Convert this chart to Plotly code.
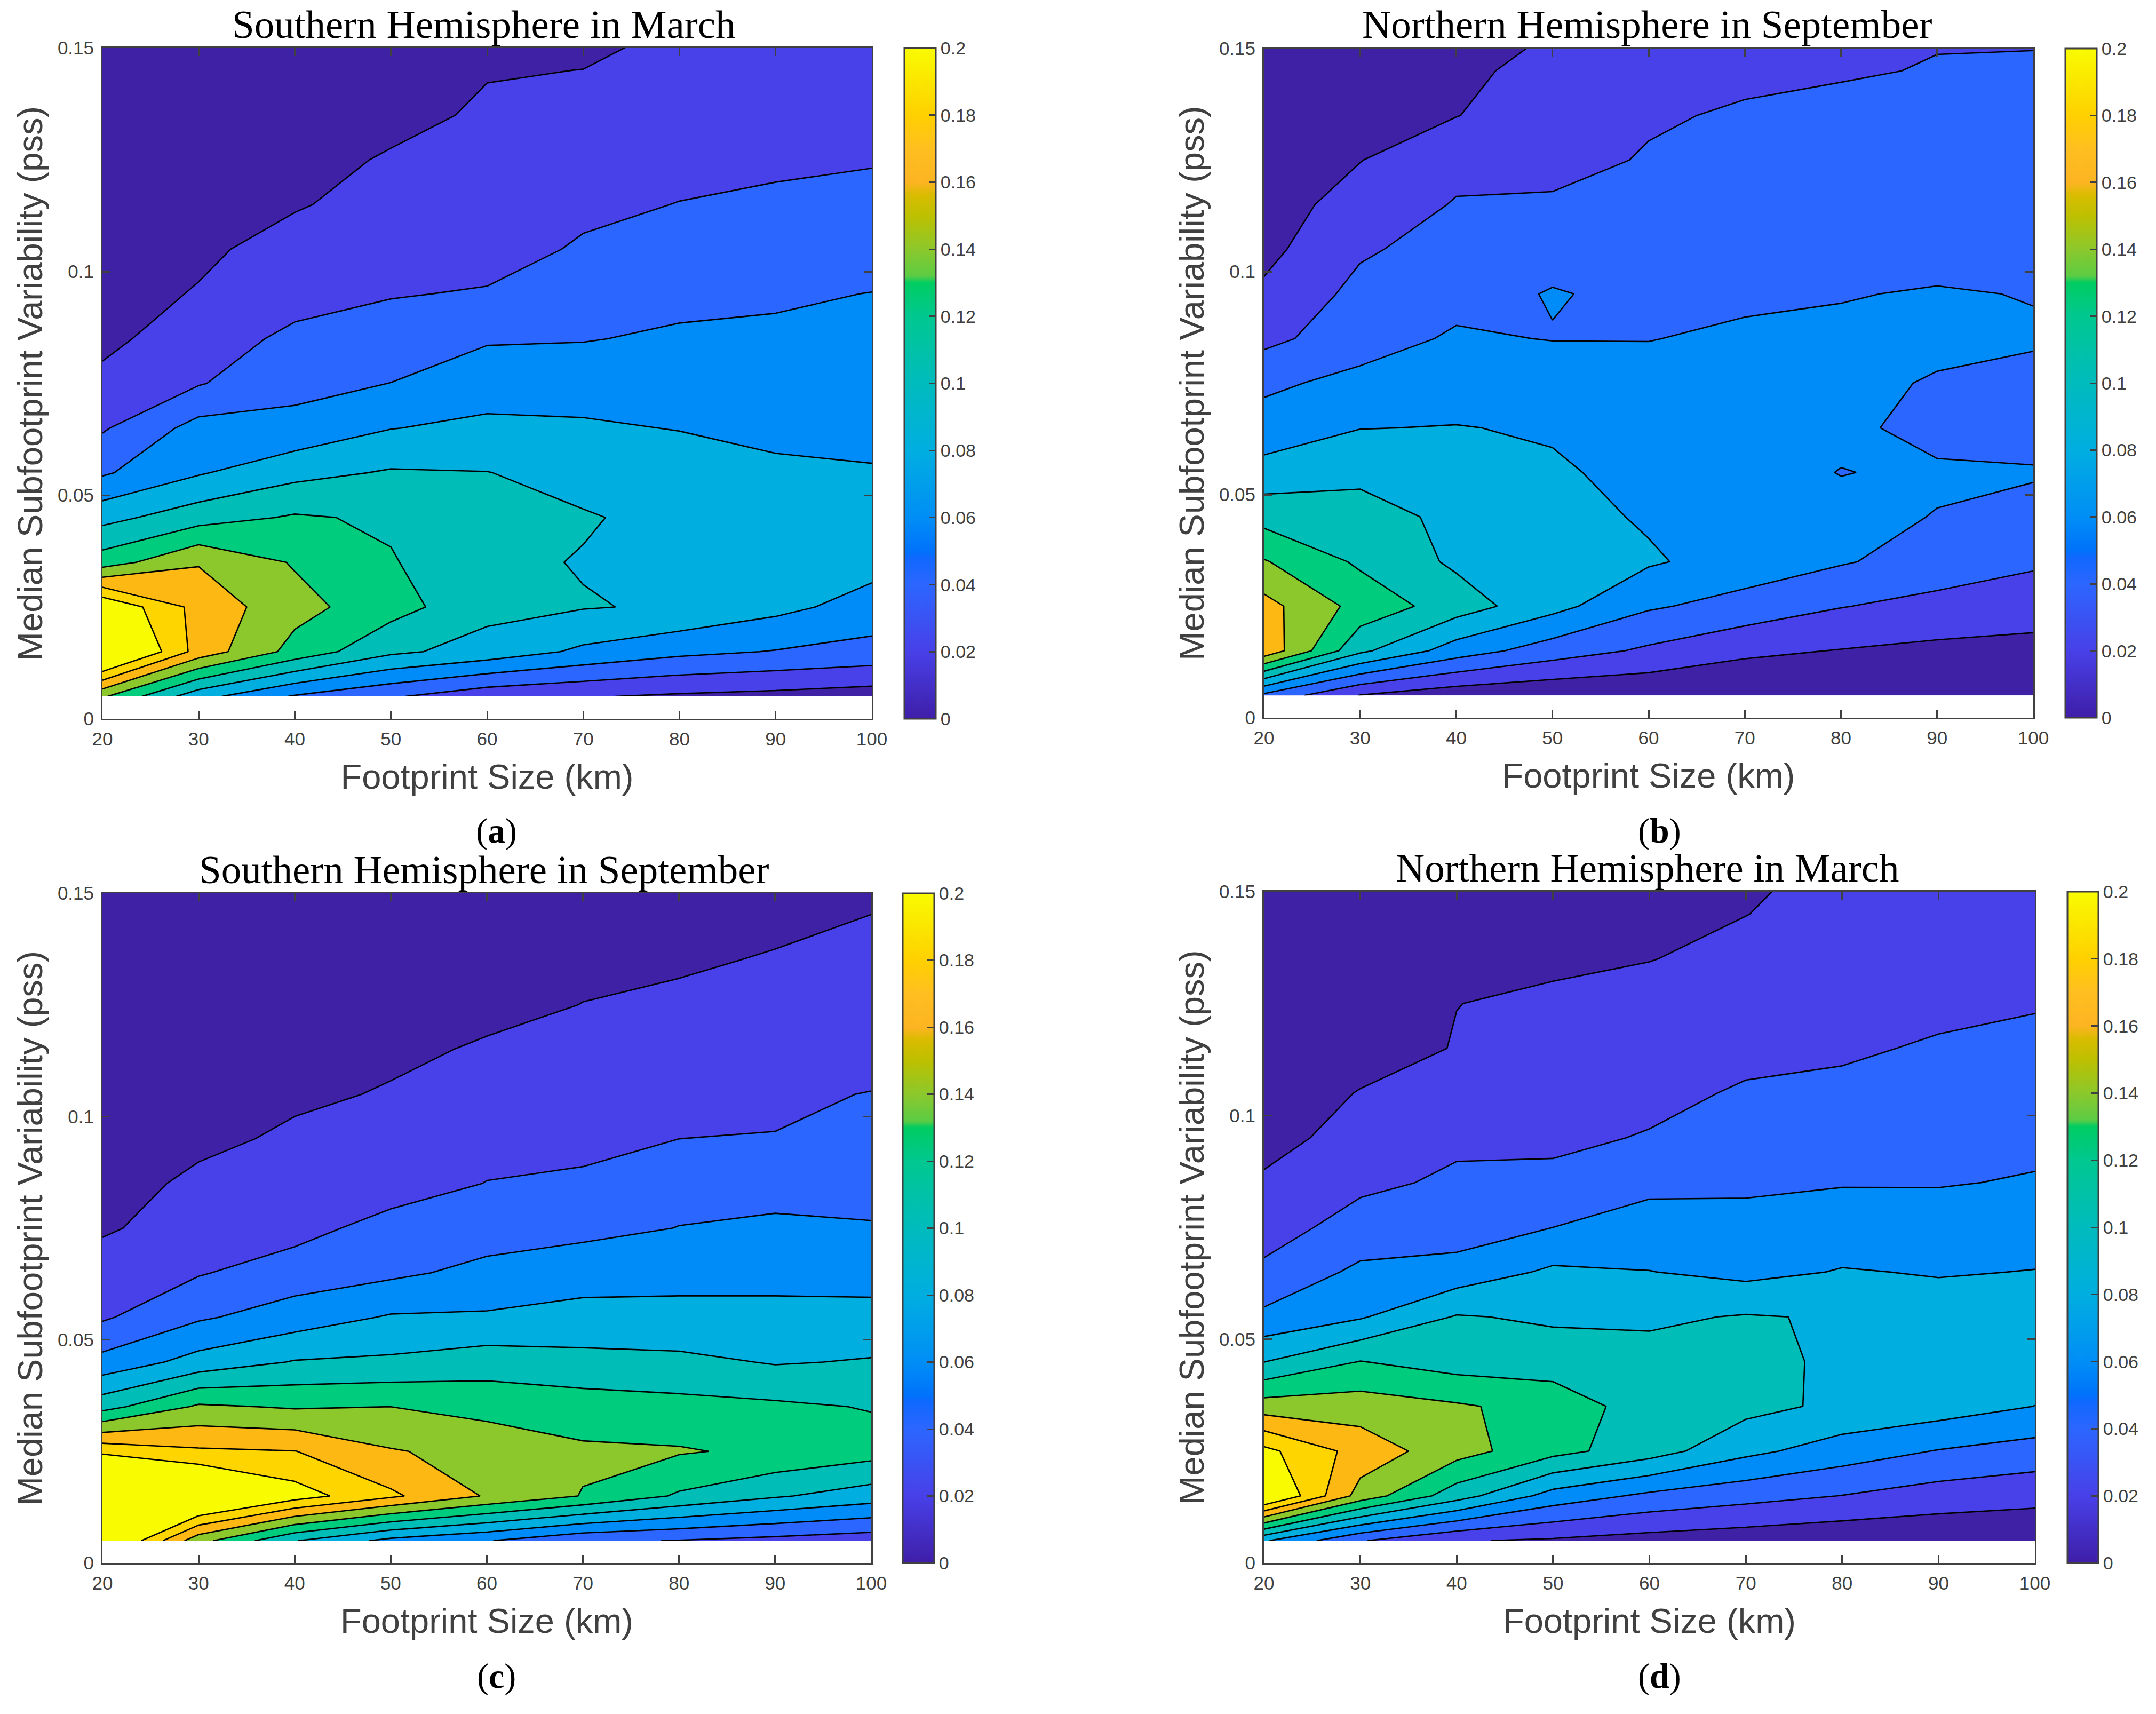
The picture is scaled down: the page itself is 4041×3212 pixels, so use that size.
import plotly.graph_objects as go

WIDTH, HEIGHT = 4041, 3212

footprint_km = [20, 30, 40, 50, 60, 70, 80, 90, 100]
variability_pss = [0.005, 0.015, 0.025, 0.035, 0.045, 0.055, 0.065, 0.075,
                   0.085, 0.095, 0.105, 0.115, 0.125, 0.135, 0.145, 0.155]

# One list per footprint size, one value per variability row
south_march = [
    [.143, .245, .2195, .13, .0935, .0575, .0378, .0245, .0155, .0125, .0105, .0095, .009, .0085, .008, .0075],
    [.087, .172, .173, .1586, .1114, .0782, .0672, .0386, .03, .0213, .0165, .014, .012, .011, .0105, .01],
    [.058, .133, .147, .1382, .1222, .094, .0654, .0548, .0445, .0325, .027, .0185, .0155, .014, .013, .012],
    [.0424, .104, .1279, .1215, .1171, .102, .0795, .0602, .0505, .0387, .0325, .0265, .0213, .0163, .014, .013],
    [.0265, .0922, .106, .1048, .108, .1005, .0842, .0712, .058, .0418, .0315, .0285, .0247, .0218, .0193, .0175],
    [.0215, .0762, .1012, .0988, .1018, .0923, .0818, .0742, .0588, .0505, .0425, .0355, .03, .0245, .0201, .0165],
    [.017, .065, .0976, .096, .094, .087, .0795, .0725, .0635, .0535, .048, .0405, .034, .0295, .0222, .0205],
    [.014, .059, .0856, .092, .0915, .0835, .0755, .0685, .0625, .0581, .052, .0425, .0375, .0325, .0285, .0265],
    [.01, .0535, .072, .0868, .0885, .0815, .0745, .0685, .064, .0603, .0535, .0465, .0385, .033, .0295, .027],
]
north_september = [
    [.055, .175, .167, .1415, .1128, .0877, .068, .0562, .0346, .0235, .0145, .011, .0095, .0085, .008, .0075],
    [.0192, .1043, .133, .1167, .1075, .0955, .0795, .0655, .0514, .0455, .0375, .028, .0195, .0165, .0145, .013],
    [.0073, .0702, .11, .0965, .0955, .089, .0807, .0705, .0625, .054, .0475, .0413, .0343, .0195, .0155, .014],
    [.0033, .05, .0865, .0875, .087, .0825, .078, .0725, .0593, .061, .0543, .0425, .034, .0305, .0265, .0195],
    [.0027, .0367, .0625, .0824, .0778, .0745, .0695, .0655, .0596, .0565, .0515, .0465, .0415, .038, .0345, .03],
    [.002, .0239, .0527, .0714, .0735, .0685, .0685, .0665, .0625, .0573, .0535, .0495, .0455, .042, .0364, .034],
    [.0025, .0192, .0408, .0618, .0661, .0594, .0649, .0645, .063, .0592, .0555, .0525, .0485, .0435, .0388, .0365],
    [.004, .0155, .0338, .0515, .0592, .0632, .0529, .0585, .0641, .0612, .0545, .052, .049, .0445, .0407, .0388],
    [.006, .0135, .0295, .0428, .0545, .0616, .052, .056, .0616, .0594, .0555, .0525, .0495, .0455, .0415, .0382],
]
south_september = [
    [.236, .275, .195, .1125, .0665, .0375, .0315, .017, .0125, .011, .0095, .009, .0085, .008, .0075, .007],
    [.147, .242, .183, .143, .0875, .0575, .0385, .031, .0237, .016, .0135, .012, .011, .0105, .01, .0095],
    [.101, .2095, .1805, .138, .1013, .0695, .0497, .033, .0275, .0228, .0172, .0145, .013, .012, .0115, .011],
    [.074, .1836, .1615, .14, .1036, .082, .056, .0475, .0301, .0255, .0212, .0172, .0155, .014, .013, .0125],
    [.0612, .1582, .1536, .1333, .1104, .0825, .0655, .0506, .0405, .033, .0265, .0215, .0165, .0145, .0135, .0125],
    [.0435, .139, .1437, .128, .1085, .082, .0775, .0518, .045, .0318, .0275, .0238, .0202, .0172, .015, .0135],
    [.0392, .1174, .1418, .126, .1055, .083, .0768, .0606, .05, .04, .0325, .027, .0225, .0183, .0165, .015],
    [.0338, .1023, .136, .1235, .0985, .083, .0768, .0625, .055, .0405, .0375, .031, .0265, .021, .017, .0155],
    [.0285, .09, .128, .1189, .1015, .0865, .0721, .0615, .0527, .0465, .0405, .0335, .0285, .024, .0201, .016],
]
north_march = [
    [.0824, .2294, .2056, .1495, .0995, .0647, .0433, .033, .0215, .0163, .0135, .0115, .0105, .0095, .009, .0085],
    [.0415, .152, .172, .15, .1205, .078, .0645, .0465, .0367, .024, .0205, .0155, .0135, .012, .0115, .011],
    [.0215, .109, .148, .1425, .1108, .1015, .0679, .05, .0425, .0372, .0285, .0205, .0199, .0175, .016, .015],
    [.0173, .072, .1265, .1325, .1098, .0971, .0835, .06, .0455, .0353, .0305, .0255, .0215, .0185, .0165, .0155],
    [.0122, .0557, .109, .1098, .1075, .0965, .0805, .0665, .0562, .0415, .034, .029, .0255, .0196, .0175, .016],
    [.0085, .047, .085, .1061, .1085, .1015, .0743, .0675, .056, .05, .0425, .0339, .0285, .024, .0198, .018],
    [.0046, .0396, .0705, .0958, .0946, .0981, .0812, .0692, .0589, .0535, .047, .0355, .031, .027, .0245, .022],
    [.0036, .031, .059, .0899, .0905, .0885, .0788, .0695, .0588, .054, .0495, .0435, .0325, .0285, .0265, .0245],
    [.003, .0265, .0515, .0798, .0885, .086, .0805, .0725, .0615, .0555, .05, .0445, .0387, .034, .0305, .028],
]

panel_titles = ["Southern Hemisphere in March", "Northern Hemisphere in September",
                "Southern Hemisphere in September", "Northern Hemisphere in March"]
panel_letters = ["a", "b", "c", "d"]
panel_data = [south_march, north_september, south_september, north_march]

x_ticks = [20, 30, 40, 50, 60, 70, 80, 90, 100]
y_ticks = [0, 0.05, 0.1, 0.15]
y_tick_text = ["0", "0.05", "0.1", "0.15"]
cbar_ticks = [0, .02, .04, .06, .08, .1, .12, .14, .16, .18, .2]
cbar_tick_text = ["0", "0.02", "0.04", "0.06", "0.08", "0.1", "0.12", "0.14", "0.16", "0.18", "0.2"]

# Band colours, lowest to highest
band_colors = ["#3f21a6", "#4840e8", "#2a66ff", "#008cf8", "#00aee0", "#00bdb7",
               "#00cc7e", "#8cc82c", "#fdb814", "#ffd500", "#f9fb00"]
bar_scale = [[0, "#3f1ea8"], [.1, "#4840e8"], [.2, "#2c66ff"], [.24, "#1068ff"], [.25, "#0072fb"],
             [.3, "#008ef6"], [.4, "#00aee0"], [.5, "#00bbbd"], [.6, "#00c890"], [.65, "#00cc62"],
             [.66, "#5ccc44"], [.7, "#8cc82c"], [.75, "#bdc000"], [.78, "#d8bc00"], [.8, "#fdb422"],
             [.85, "#ffbf20"], [.9, "#ffd000"], [.95, "#fbe600"], [1, "#f9fb00"]]

# Pixel boxes: axes left/right/top/bottom and colour bar left/right
axes_px = [(192, 1634, 90, 1347), (2369, 3811, 91, 1345),
           (192, 1633, 1674, 2929), (2369, 3814, 1671, 2929)]
bar_px = [(1695, 1754), (3871, 3930), (1692, 1751), (3875, 3933)]
title_y_px = [46, 46, 1629, 1626]
title_x_px = [907, 3087, 907, 3087]
label_px = [(930, 1557), (3110, 1557), (930, 3141), (3110, 3141)]

INK = "#404040"
SANS = "Liberation Sans"
SERIF = "Liberation Serif"

band_scale = [[i / (len(band_colors) - 1), c] for i, c in enumerate(band_colors)]

fig = go.Figure()
annotations = []
for i in range(4):
    left, right, top, bottom = axes_px[i]
    n = "" if i == 0 else str(i + 1)
    z_rows = [list(r) for r in zip(*panel_data[i])]
    fig.add_trace(go.Contour(
        x=footprint_km, y=variability_pss, z=z_rows, xaxis="x" + n, yaxis="y" + n,
        autocontour=False,
        contours=dict(start=0.02, end=0.2, size=0.02, coloring="fill", showlines=True),
        line=dict(color="black", width=2.6, smoothing=0),
        colorscale=band_scale, showscale=False, hoverinfo="skip",
    ))
    bl, br = bar_px[i]
    fig.add_trace(go.Scatter(
        x=[footprint_km[0], footprint_km[0]], y=[variability_pss[0], variability_pss[0]],
        xaxis="x" + n, yaxis="y" + n, mode="markers", showlegend=False, hoverinfo="skip",
        marker=dict(size=1, opacity=0, color=[cbar_ticks[0], cbar_ticks[-1]], cmin=0, cmax=0.2,
                    colorscale=bar_scale, showscale=True,
                    colorbar=dict(
                        x=bl / WIDTH, xanchor="left", xpad=0, y=1 - bottom / HEIGHT, yanchor="bottom", ypad=0,
                        thicknessmode="pixels", thickness=br - bl,
                        lenmode="pixels", len=bottom - top,
                        tickmode="array", tickvals=cbar_ticks, ticktext=cbar_tick_text,
                        ticks="inside", ticklen=14, tickwidth=2.5, tickcolor=INK,
                        tickfont=dict(family=SANS, size=34, color=INK),
                        outlinecolor=INK, outlinewidth=3,
                    )),
    ))
    axis_common = dict(
        showgrid=False, zeroline=False, showline=True, linecolor=INK, linewidth=3,
        mirror="ticks", ticks="inside", ticklen=15, tickwidth=2.5, tickcolor=INK,
        tickfont=dict(family=SANS, size=35, color=INK),
    )
    fig.update_layout(**{
        "xaxis" + n: dict(
            domain=[left / WIDTH, right / WIDTH], anchor="y" + n, range=[20, 100],
            tickmode="array", tickvals=x_ticks, ticktext=[str(v) for v in x_ticks],
            ticklabelstandoff=5,
            title=dict(text="Footprint Size (km)", font=dict(family=SANS, size=65, color=INK), standoff=30),
            **axis_common),
        "yaxis" + n: dict(
            domain=[1 - bottom / HEIGHT, 1 - top / HEIGHT], anchor="x" + n, range=[0, 0.15],
            tickmode="array", tickvals=y_ticks, ticktext=y_tick_text,
            ticklabelstandoff=6,
            title=dict(text="Median Subfootprint Variability (pss)",
                       font=dict(family=SANS, size=65, color=INK), standoff=8),
            **axis_common),
    })
    annotations.append(dict(
        text=panel_titles[i], x=title_x_px[i] / WIDTH, y=1 - title_y_px[i] / HEIGHT,
        xref="paper", yref="paper", xanchor="center", yanchor="middle", showarrow=False,
        font=dict(family=SERIF, size=75, color="black")))
    annotations.append(dict(
        text="(<b>" + panel_letters[i] + "</b>)", x=label_px[i][0] / WIDTH, y=1 - label_px[i][1] / HEIGHT,
        xref="paper", yref="paper", xanchor="center", yanchor="middle", showarrow=False,
        font=dict(family=SERIF, size=66, color="black")))

fig.update_layout(
    width=WIDTH, height=HEIGHT, margin=dict(l=0, r=0, t=0, b=0, pad=0, autoexpand=False),
    paper_bgcolor="white", plot_bgcolor="white", showlegend=False,
    annotations=annotations,
)
fig.write_html("out.html", config={"displayModeBar": False},
               post_script="document.body.style.margin='0';")
